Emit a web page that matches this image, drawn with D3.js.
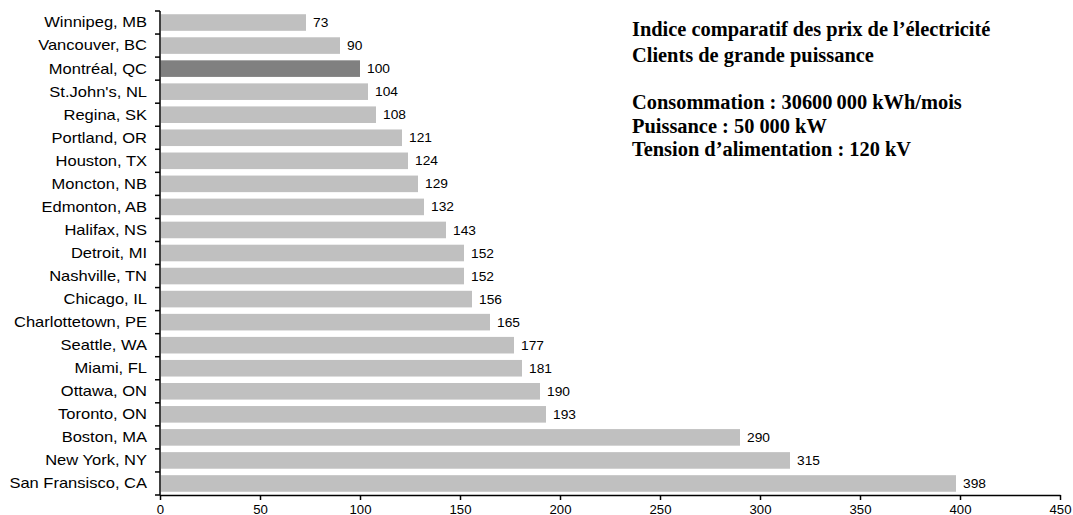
<!DOCTYPE html>
<html>
<head>
<meta charset="utf-8">
<script src="https://cdn.jsdelivr.net/npm/d3@7"></script>
<style>
  html, body { margin: 0; padding: 0; background: #fff; }
  svg { display: block; }
  .axis path, .axis line { stroke: #000; }
  text.sans { font-family: "Liberation Sans", Arial, sans-serif; fill: #000; }
</style>
</head>
<body>
<svg id="chart" width="1073" height="515"></svg>
<script>
// Comparative electricity price index, large-power customers
const cities = [
  "Winnipeg, MB", "Vancouver, BC", "Montréal, QC", "St.John's, NL", "Regina, SK",
  "Portland, OR", "Houston, TX", "Moncton, NB", "Edmonton, AB", "Halifax, NS",
  "Detroit, MI", "Nashville, TN", "Chicago, IL", "Charlottetown, PE", "Seattle, WA",
  "Miami, FL", "Ottawa, ON", "Toronto, ON", "Boston, MA", "New York, NY",
  "San Fransisco, CA"
];
const indexValues = [73, 90, 100, 104, 108, 121, 124, 129, 132, 143, 152, 152, 156, 165, 177, 181, 190, 193, 290, 315, 398];
const highlighted = ["Montréal, QC"];
const xTicks = [0, 50, 100, 150, 200, 250, 300, 350, 400, 450];
const titleLines = [
  "Indice comparatif des prix de l\u2019électricité",
  "Clients de grande puissance"
];
const noteLines = [
  "Consommation : 30600\u2009000 kWh/mois",
  "Puissance : 50 000 kW",
  "Tension d\u2019alimentation : 120 kV"
];

const svg = d3.select("#chart");
const plotLeft = 160, plotRight = 1060, plotTop = 11, plotBottom = 495;
const sx = 1.18; // horizontal widening of the sans-serif labels

const x = d3.scaleLinear().domain([0, 450]).range([plotLeft, plotRight]);
const y = d3.scaleBand().domain(cities).range([plotTop, plotBottom]).paddingInner(0.28).paddingOuter(0.14);

const data = cities.map((c, i) => ({ city: c, value: indexValues[i] }));

// bars
svg.append("g").selectAll("rect").data(data).join("rect")
  .attr("x", x(0) + 1)
  .attr("y", d => y(d.city))
  .attr("width", d => x(d.value) - x(0) - 1)
  .attr("height", y.bandwidth())
  .attr("fill", d => highlighted.includes(d.city) ? "#808080" : "#c0c0c0");

// value labels
svg.append("g").selectAll("text").data(data).join("text")
  .attr("class", "sans")
  .attr("transform", d => `translate(${x(d.value) + 7},${y(d.city) + y.bandwidth() / 2}) scale(1.06,1)`)
  .attr("dy", "0.35em")
  .attr("font-size", 13)
  .text(d => d.value);

// x axis
const xAxis = svg.append("g").attr("class", "axis")
  .attr("transform", `translate(0,${plotBottom})`)
  .call(d3.axisBottom(x).tickValues(xTicks).tickSize(5).tickSizeOuter(0).tickPadding(5));
xAxis.selectAll(".tick line").attr("stroke-width", 1.5);
xAxis.selectAll("text")
  .attr("class", "sans")
  .attr("font-size", 12)
  .attr("transform", "scale(1.1,1)")
  .attr("x", 0);
xAxis.selectAll(".tick").attr("font-family", null);
xAxis.select(".domain").attr("stroke-width", 1.5);

// y axis: ticks sit on category boundaries
const yAxisG = svg.append("g").attr("class", "axis");
yAxisG.append("line")
  .attr("x1", plotLeft).attr("x2", plotLeft)
  .attr("y1", plotTop).attr("y2", plotBottom)
  .attr("stroke", "#000").attr("stroke-width", 1.5);
const boundaries = d3.range(cities.length + 1).map(i => plotTop + i * (plotBottom - plotTop) / cities.length);
yAxisG.selectAll("line.tick").data(boundaries).join("line")
  .attr("class", "tick")
  .attr("x1", plotLeft - 5).attr("x2", plotLeft)
  .attr("y1", d => d).attr("y2", d => d)
  .attr("stroke", "#000").attr("stroke-width", 1.5);
yAxisG.selectAll("text").data(cities).join("text")
  .attr("class", "sans")
  .attr("transform", d => `translate(${plotLeft - 13},${y(d) + y.bandwidth() / 2}) scale(${sx},1)`)
  .attr("dy", "0.35em")
  .attr("text-anchor", "end")
  .attr("font-size", 14)
  .text(d => d);

// title block
const tb = svg.append("g")
  .attr("font-family", "Liberation Serif, 'Times New Roman', serif")
  .attr("font-weight", "bold")
  .attr("font-size", 20);
titleLines.forEach((t, i) => tb.append("text")
  .attr("transform", `translate(632,${36 + i * 26}) scale(1.02,1)`).text(t));
noteLines.forEach((t, i) => tb.append("text")
  .attr("transform", `translate(632,${109 + i * 23.5}) scale(1.02,1)`).text(t));
</script>
</body>
</html>
